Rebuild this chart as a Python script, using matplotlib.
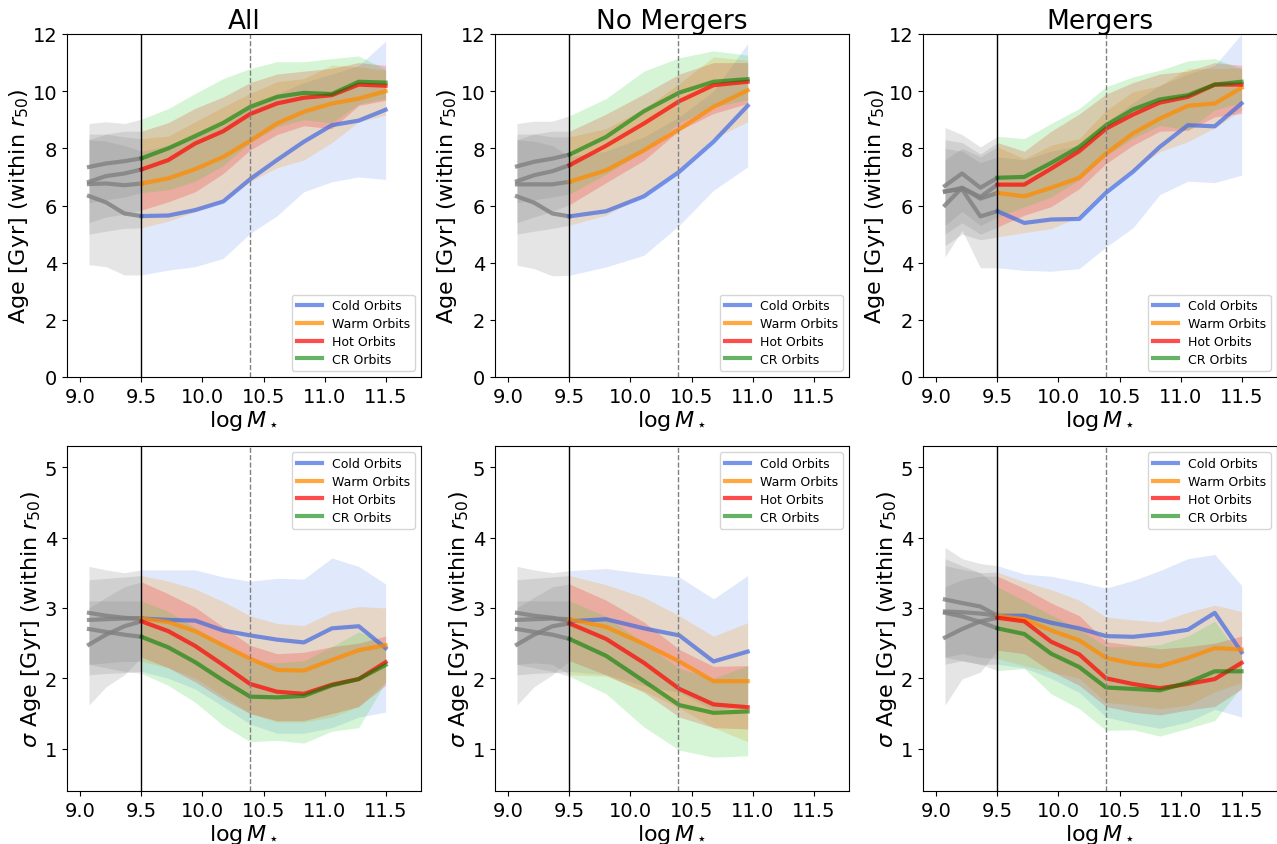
import matplotlib
matplotlib.use('Agg')
import matplotlib.pyplot as plt
import numpy as np

# mass bins: three low-mass bins (shown in grey) followed by the main range
x_full = [9.07, 9.21, 9.36, 9.5, 9.72, 9.94, 10.17, 10.39, 10.61, 10.83, 11.06, 11.28, 11.5]
x_nomerg = [9.07, 9.21, 9.36, 9.5, 9.8, 10.11, 10.4, 10.68, 10.96]
mass_cut = 9.5
mass_ref = 10.39

# ---- Age, all galaxies: (median, lower, upper)
age_all_cold = ([6.33, 6.11, 5.72, 5.63, 5.65, 5.84, 6.14, 6.92, 7.59, 8.23, 8.81, 8.97, 9.35],
                [3.93, 3.86, 3.57, 3.57, 3.74, 3.86, 4.15, 5.02, 5.64, 6.48, 6.83, 7.0, 6.91],
                [8.3, 8.25, 8.1, 7.9, 8.1, 8.4, 8.8, 9.4, 9.9, 10.3, 10.6, 10.9, 11.75])
age_all_warm = ([6.75, 6.77, 6.71, 6.77, 6.95, 7.27, 7.70, 8.26, 8.87, 9.28, 9.57, 9.74, 10.0],
                [5.0, 5.1, 5.2, 5.22, 5.45, 5.78, 6.13, 6.83, 7.32, 7.59, 8.2, 8.93, 9.16],
                [8.5, 8.5, 8.4, 8.34, 8.43, 8.93, 9.45, 9.92, 10.33, 10.44, 10.91, 10.85, 10.73])
age_all_hot = ([6.83, 7.03, 7.12, 7.26, 7.59, 8.17, 8.60, 9.20, 9.57, 9.77, 9.86, 10.23, 10.19],
               [5.4, 5.6, 5.7, 5.84, 6.13, 6.48, 7.12, 7.94, 8.48, 8.79, 8.69, 9.5, 9.68],
               [8.3, 8.5, 8.6, 8.6, 8.9, 9.4, 9.8, 10.3, 10.6, 10.7, 10.8, 11.0, 10.9])
age_all_cr = ([7.35, 7.47, 7.55, 7.65, 8.0, 8.43, 8.89, 9.45, 9.80, 9.94, 9.90, 10.33, 10.30],
              [6.1, 6.2, 6.3, 6.45, 6.55, 6.85, 7.4, 8.2, 8.75, 9.0, 8.9, 9.55, 9.75],
              [8.87, 8.93, 8.87, 9.02, 9.39, 9.92, 10.44, 10.79, 11.03, 11.03, 11.14, 11.23, 10.76])

# ---- Age, no mergers
age_nm_cold = ([6.32, 6.10, 5.72, 5.62, 5.80, 6.32, 7.18, 8.23, 9.49],
               [3.91, 3.79, 3.54, 3.56, 3.85, 4.26, 5.31, 6.53, 7.35],
               [8.3, 8.25, 8.1, 7.7, 7.9, 8.4, 9.1, 10.0, 11.67])
age_nm_warm = ([6.74, 6.74, 6.74, 6.83, 7.23, 7.93, 8.67, 9.45, 10.03],
               [5.0, 5.1, 5.2, 5.31, 5.66, 6.36, 7.29, 8.34, 8.93],
               [8.5, 8.5, 8.4, 8.40, 8.69, 9.39, 10.27, 11.2, 11.08])
age_nm_hot = ([6.85, 7.06, 7.20, 7.41, 8.09, 8.87, 9.65, 10.21, 10.33],
              [5.4, 5.6, 5.8, 6.03, 6.8, 7.58, 8.63, 9.22, 9.57],
              [8.3, 8.5, 8.6, 8.6, 9.2, 9.9, 10.6, 11.0, 11.0])
age_nm_cr = ([7.37, 7.53, 7.64, 7.78, 8.40, 9.30, 9.95, 10.33, 10.42],
             [6.1, 6.2, 6.3, 6.4, 7.1, 7.9, 8.9, 9.45, 9.7],
             [8.87, 8.95, 8.95, 9.14, 9.74, 10.70, 11.17, 11.41, 11.26])

# ---- Age, mergers
age_m_cold = ([6.5, 6.57, 5.62, 5.80, 5.39, 5.51, 5.53, 6.45, 7.18, 8.05, 8.81, 8.77, 9.57],
              [4.2, 5.13, 3.82, 3.82, 3.73, 3.70, 3.79, 4.55, 5.22, 6.38, 6.85, 6.80, 7.06],
              [8.0, 7.9, 7.5, 7.7, 7.6, 7.9, 8.1, 8.9, 9.6, 10.2, 10.6, 10.9, 12.0])
age_m_warm = ([6.01, 6.62, 6.24, 6.44, 6.32, 6.62, 6.97, 7.82, 8.52, 9.04, 9.49, 9.57, 10.12],
              [4.6, 5.0, 4.8, 4.9, 5.05, 5.19, 5.6, 6.59, 7.23, 7.88, 8.23, 8.72, 9.33],
              [7.6, 8.0, 7.7, 8.05, 7.64, 8.11, 8.34, 9.33, 9.98, 10.19, 10.79, 10.79, 10.82])
age_m_hot = ([6.48, 6.62, 6.30, 6.73, 6.73, 7.29, 7.90, 8.69, 9.18, 9.60, 9.80, 10.23, 10.23],
             [5.0, 5.4, 5.0, 5.25, 5.66, 5.96, 6.59, 7.47, 8.11, 8.60, 8.63, 9.10, 9.22],
             [8.3, 8.2, 7.8, 8.2, 7.9, 8.6, 9.2, 9.9, 10.3, 10.6, 10.7, 11.0, 10.9])
age_m_cr = ([6.69, 7.12, 6.62, 6.97, 7.0, 7.49, 8.05, 8.81, 9.36, 9.71, 9.86, 10.23, 10.33],
            [5.3, 5.8, 5.3, 5.6, 5.95, 6.3, 6.9, 7.75, 8.35, 8.8, 8.65, 9.35, 9.6],
            [8.73, 8.48, 8.05, 8.42, 8.34, 8.87, 9.39, 10.15, 10.50, 10.73, 11.06, 11.14, 10.77])

# ---- sigma Age, all galaxies
sig_all_cold = ([2.93, 2.89, 2.86, 2.85, 2.83, 2.82, 2.68, 2.61, 2.55, 2.51, 2.71, 2.74, 2.43],
                [2.05, 2.07, 2.08, 2.1, 2.0, 1.85, 1.6, 1.35, 1.22, 1.22, 1.3, 1.45, 1.52],
                [3.59, 3.54, 3.50, 3.54, 3.54, 3.54, 3.44, 3.38, 3.42, 3.41, 3.71, 3.59, 3.34])
sig_all_warm = ([2.83, 2.84, 2.85, 2.85, 2.80, 2.67, 2.47, 2.28, 2.12, 2.11, 2.26, 2.40, 2.47],
                [2.2, 2.22, 2.24, 2.24, 2.15, 2.0, 1.75, 1.5, 1.38, 1.38, 1.45, 1.6, 1.95],
                [3.4, 3.42, 3.44, 3.46, 3.38, 3.27, 3.09, 2.89, 2.78, 2.75, 2.94, 3.02, 3.0])
sig_all_hot = ([2.48, 2.62, 2.74, 2.81, 2.67, 2.46, 2.19, 1.92, 1.81, 1.78, 1.91, 1.99, 2.23],
               [1.62, 1.88, 2.05, 2.3, 2.15, 1.95, 1.7, 1.5, 1.4, 1.4, 1.5, 1.6, 1.9],
               [3.0, 3.15, 3.3, 3.37, 3.2, 3.01, 2.73, 2.47, 2.35, 2.37, 2.45, 2.5, 2.6])
sig_all_cr = ([2.70, 2.66, 2.62, 2.59, 2.44, 2.23, 1.97, 1.74, 1.73, 1.75, 1.90, 1.99, 2.19],
              [2.2, 2.15, 2.1, 2.07, 1.90, 1.66, 1.33, 1.10, 1.12, 1.08, 1.25, 1.30, 1.95],
              [3.1, 3.1, 3.1, 3.1, 2.95, 2.72, 2.48, 2.25, 2.22, 2.25, 2.45, 2.66, 2.5])

# ---- sigma Age, no mergers
sig_nm_cold = ([2.93, 2.89, 2.86, 2.81, 2.84, 2.71, 2.61, 2.24, 2.38],
               [2.05, 2.07, 2.08, 2.1, 2.05, 1.9, 1.8, 1.55, 1.6],
               [3.59, 3.54, 3.5, 3.53, 3.56, 3.49, 3.44, 3.13, 3.46])
sig_nm_warm = ([2.83, 2.84, 2.85, 2.84, 2.73, 2.49, 2.24, 1.96, 1.96],
               [2.2, 2.22, 2.2, 2.05, 2.03, 1.82, 1.58, 1.3, 1.1],
               [3.4, 3.42, 3.44, 3.46, 3.33, 3.15, 2.89, 2.60, 2.79])
sig_nm_hot = ([2.48, 2.62, 2.74, 2.78, 2.56, 2.22, 1.85, 1.63, 1.59],
              [1.62, 1.88, 2.05, 2.25, 2.05, 1.8, 1.45, 1.3, 1.28],
              [3.0, 3.15, 3.3, 3.34, 3.11, 2.80, 2.41, 2.17, 2.18])
sig_nm_cr = ([2.70, 2.66, 2.62, 2.56, 2.32, 1.96, 1.62, 1.51, 1.53],
             [2.2, 2.15, 2.1, 2.03, 1.78, 1.31, 0.98, 0.88, 0.90],
             [3.1, 3.1, 3.1, 3.1, 2.88, 2.5, 2.14, 2.0, 2.18])

# ---- sigma Age, mergers
sig_m_cold = ([3.12, 3.07, 3.02, 2.89, 2.89, 2.79, 2.71, 2.60, 2.59, 2.63, 2.69, 2.93, 2.37],
              [2.2, 2.25, 2.2, 2.2, 2.15, 2.0, 1.8, 1.45, 1.36, 1.29, 1.38, 1.56, 1.45],
              [3.86, 3.70, 3.63, 3.60, 3.48, 3.45, 3.37, 3.28, 3.39, 3.53, 3.70, 3.76, 3.32])
sig_m_warm = ([2.95, 2.94, 2.92, 2.89, 2.84, 2.68, 2.54, 2.29, 2.21, 2.17, 2.29, 2.43, 2.41],
              [2.3, 2.35, 2.3, 2.28, 2.18, 2.09, 2.0, 1.66, 1.62, 1.57, 1.62, 1.81, 1.94],
              [3.6, 3.55, 3.5, 3.51, 3.37, 3.26, 3.11, 2.87, 2.83, 2.80, 2.94, 3.04, 2.95])
sig_m_hot = ([2.58, 2.70, 2.81, 2.86, 2.81, 2.52, 2.34, 2.00, 1.92, 1.86, 1.92, 1.99, 2.22],
             [1.62, 1.99, 2.09, 2.4, 2.35, 2.1, 1.9, 1.6, 1.52, 1.48, 1.55, 1.6, 1.85],
             [3.3, 3.4, 3.45, 3.45, 3.28, 3.07, 2.89, 2.52, 2.47, 2.42, 2.45, 2.5, 2.6])
sig_m_cr = ([2.93, 2.88, 2.80, 2.71, 2.63, 2.35, 2.16, 1.87, 1.85, 1.83, 1.94, 2.10, 2.10],
            [2.3, 2.25, 2.2, 2.11, 2.14, 1.78, 1.57, 1.26, 1.27, 1.18, 1.29, 1.40, 1.88],
            [3.7, 3.6, 3.5, 3.3, 3.1, 2.9, 2.7, 2.45, 2.45, 2.48, 2.6, 2.81, 2.3])

labels = ['Cold Orbits', 'Warm Orbits', 'Hot Orbits', 'CR Orbits']
line_colors = ['royalblue', 'darkorange', 'red', 'green']
line_alpha = [0.7, 0.75, 0.7, 0.6]
fill_colors = ['cornflowerblue', 'darkorange', 'red', 'limegreen']

titles = ['All', 'No Mergers', 'Mergers']


def plot_panel(ax, x, comps, legend_loc):
    x = np.asarray(x)
    low = x <= mass_cut
    high = x >= mass_cut
    # shaded ranges first
    for (med, lo, hi), fc in zip(comps, fill_colors):
        lo = np.asarray(lo)
        hi = np.asarray(hi)
        ax.fill_between(x[low], lo[low], hi[low], color='gray', alpha=0.2, lw=0)
        ax.fill_between(x[high], lo[high], hi[high], color=fc, alpha=0.2, lw=0)
    for (med, lo, hi), lc, la, lab in zip(comps, line_colors, line_alpha, labels):
        med = np.asarray(med)
        ax.plot(x[low], med[low], color='gray', lw=3, alpha=0.8)
        ax.plot(x[high], med[high], color=lc, lw=3, alpha=la, label=lab)
    ax.axvline(mass_cut, color='k', lw=1)
    ax.axvline(mass_ref, color='gray', ls='--', lw=1)
    ax.set_xlim(8.89, 11.79)
    ax.set_xticks([9.0, 9.5, 10.0, 10.5, 11.0, 11.5])
    ax.tick_params(labelsize=14)
    ax.set_xlabel(r'$\log M_\star$', fontsize=16, labelpad=2)
    ax.legend(loc=legend_loc, fontsize=9, labelspacing=0.38)


fig = plt.figure(figsize=(12.77, 8.45), dpi=100)
lefts = [67 / 1277, 495 / 1277, 923 / 1277]
w = 354 / 1277

age_sets = [(x_full, [age_all_cold, age_all_warm, age_all_hot, age_all_cr]),
            (x_nomerg, [age_nm_cold, age_nm_warm, age_nm_hot, age_nm_cr]),
            (x_full, [age_m_cold, age_m_warm, age_m_hot, age_m_cr])]
sig_sets = [(x_full, [sig_all_cold, sig_all_warm, sig_all_hot, sig_all_cr]),
            (x_nomerg, [sig_nm_cold, sig_nm_warm, sig_nm_hot, sig_nm_cr]),
            (x_full, [sig_m_cold, sig_m_warm, sig_m_hot, sig_m_cr])]

for i in range(3):
    ax = fig.add_axes([lefts[i], 1 - 378 / 845, w, 343 / 845])
    plot_panel(ax, age_sets[i][0], age_sets[i][1], 'lower right')
    ax.set_ylim(0, 12)
    ax.set_ylabel(r'Age [Gyr] (within $r_{50}$)', fontsize=16, labelpad=1)
    ax.set_title(titles[i], fontsize=19, pad=4)

    ax = fig.add_axes([lefts[i], 1 - 792 / 845, w, 345 / 845])
    plot_panel(ax, sig_sets[i][0], sig_sets[i][1], 'upper right')
    ax.set_ylim(0.4, 5.3)
    ax.set_yticks([1, 2, 3, 4, 5])
    ax.set_ylabel(r'$\sigma$ Age [Gyr] (within $r_{50}$)', fontsize=16, labelpad=1)

fig.savefig('out.png', dpi=100)
